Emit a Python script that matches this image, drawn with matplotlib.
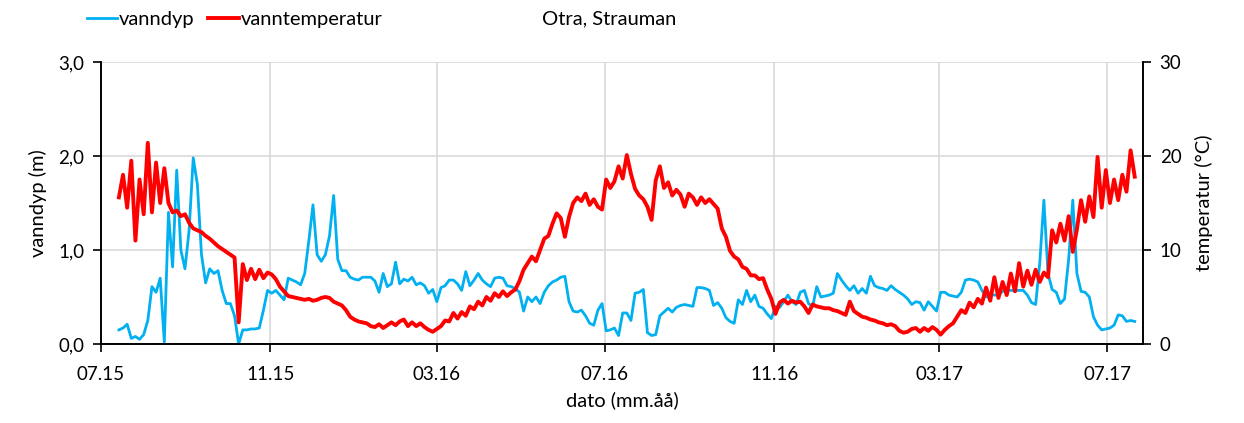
import numpy as np
import pandas as pd
import matplotlib
matplotlib.use("Agg")
import matplotlib.pyplot as plt
import matplotlib.dates as mdates

plt.rcParams['font.family'] = ['Lato', 'DejaVu Sans']

# --- data (3-day sampling from 2015-07-14) ---
start_date = "2015-07-14"
step = "3D"

vanndyp = [
    0.15, 0.17, 0.21, 0.06, 0.08, 0.05, 0.10, 0.25, 0.61, 0.55,
    0.70, 0.02, 1.40, 0.82, 1.85, 1.00, 0.80, 1.21, 1.98, 1.70,
    0.95, 0.65, 0.80, 0.75, 0.78, 0.57, 0.43, 0.43, 0.30, 0.00,
    0.15, 0.15, 0.16, 0.16, 0.17, 0.36, 0.57, 0.54, 0.57, 0.52,
    0.47, 0.70, 0.68, 0.66, 0.63, 0.75, 1.10, 1.48, 0.95, 0.88,
    0.95, 1.15, 1.58, 0.90, 0.78, 0.78, 0.71, 0.69, 0.68, 0.71,
    0.71, 0.71, 0.67, 0.55, 0.75, 0.61, 0.64, 0.87, 0.64, 0.69,
    0.67, 0.71, 0.63, 0.65, 0.62, 0.54, 0.58, 0.45, 0.60, 0.62,
    0.68, 0.68, 0.64, 0.57, 0.77, 0.62, 0.68, 0.75, 0.68, 0.64,
    0.61, 0.70, 0.71, 0.70, 0.62, 0.61, 0.59, 0.55, 0.35, 0.50,
    0.45, 0.50, 0.43, 0.55, 0.62, 0.66, 0.68, 0.71, 0.72, 0.45,
    0.35, 0.34, 0.36, 0.30, 0.22, 0.20, 0.36, 0.43, 0.14, 0.15,
    0.17, 0.09, 0.33, 0.33, 0.25, 0.54, 0.55, 0.58, 0.12, 0.09,
    0.10, 0.30, 0.34, 0.38, 0.34, 0.39, 0.41, 0.42, 0.41, 0.40,
    0.60, 0.60, 0.59, 0.57, 0.41, 0.44, 0.38, 0.28, 0.24, 0.22,
    0.47, 0.42, 0.57, 0.45, 0.52, 0.40, 0.38, 0.32, 0.27, 0.40,
    0.39, 0.45, 0.52, 0.45, 0.42, 0.55, 0.57, 0.43, 0.40, 0.61,
    0.50, 0.51, 0.52, 0.54, 0.75, 0.68, 0.62, 0.57, 0.62, 0.54,
    0.59, 0.54, 0.72, 0.62, 0.60, 0.59, 0.57, 0.62, 0.58, 0.55,
    0.52, 0.48, 0.42, 0.45, 0.44, 0.36, 0.45, 0.40, 0.35, 0.55,
    0.55, 0.52, 0.51, 0.50, 0.55, 0.68, 0.69, 0.68, 0.66, 0.57,
    0.50, 0.53, 0.52, 0.52, 0.56, 0.57, 0.57, 0.57, 0.57, 0.57,
    0.52, 0.44, 0.42, 0.86, 1.53, 0.75, 0.58, 0.55, 0.43, 0.48,
    0.90, 1.53, 0.75, 0.56, 0.55, 0.50, 0.29, 0.20, 0.15, 0.16,
    0.17, 0.20, 0.31, 0.30, 0.24, 0.25, 0.24,
]

vanntemperatur = [
    15.6, 18.0, 14.5, 19.5, 11.0, 17.5, 13.8, 21.4, 14.0, 19.3,
    15.0, 18.7, 15.0, 14.0, 14.2, 13.6, 13.8, 12.9, 12.3, 12.1,
    11.9, 11.5, 11.2, 10.8, 10.4, 10.1, 9.8, 9.5, 9.2, 2.3,
    8.5, 6.8, 8.0, 6.9, 7.9, 7.0, 7.6, 7.4, 6.9, 6.1,
    5.6, 5.1, 5.0, 4.9, 4.8, 4.7, 4.8, 4.6, 4.7, 4.9,
    5.0, 4.9, 4.5, 4.3, 4.1, 3.6, 2.9, 2.6, 2.4, 2.3,
    2.2, 1.9, 1.8, 2.1, 1.7, 2.0, 2.3, 2.0, 2.4, 2.6,
    1.9, 2.3, 1.9, 2.2, 1.8, 1.5, 1.3, 1.6, 1.9, 2.5,
    2.4, 3.3, 2.7, 3.4, 3.0, 4.0, 3.7, 4.5, 4.1, 5.0,
    4.6, 5.4, 5.0, 5.6, 5.1, 5.5, 5.8, 6.7, 7.9, 8.6,
    9.3, 8.8, 10.0, 11.2, 11.5, 12.8, 13.9, 13.4, 11.4, 13.5,
    15.0, 15.6, 15.2, 16.0, 14.8, 15.4, 14.6, 14.3, 17.5, 16.6,
    17.3, 18.9, 17.6, 20.1, 18.1, 16.5, 15.8, 15.4, 14.6, 13.2,
    17.4, 18.9, 16.6, 17.2, 15.8, 16.4, 15.9, 14.6, 16.0, 15.6,
    14.8, 15.6, 15.0, 15.4, 14.9, 14.4, 12.3, 11.4, 9.9, 9.3,
    9.0, 8.2, 8.0, 7.3, 7.3, 6.9, 7.0, 5.8, 4.8, 3.2,
    4.4, 4.7, 4.3, 4.6, 4.4, 4.5, 4.0, 3.3, 4.2, 4.0,
    3.9, 3.8, 3.8, 3.6, 3.5, 3.3, 3.1, 4.5, 3.5, 3.2,
    2.9, 2.8, 2.6, 2.5, 2.3, 2.2, 2.0, 2.1, 1.9, 1.4,
    1.2, 1.3, 1.6, 1.7, 1.3, 1.7, 1.4, 1.8, 1.5, 1.0,
    1.5, 1.9, 2.2, 2.9, 3.6, 3.3, 4.4, 3.9, 4.8, 4.3,
    6.0, 4.6, 7.1, 4.9, 6.6, 5.2, 7.5, 5.6, 8.6, 6.1,
    7.8, 6.3, 7.9, 6.6, 7.6, 7.1, 12.1, 10.8, 12.8, 11.0,
    13.6, 9.8, 12.2, 15.3, 13.0, 15.7, 13.5, 19.9, 14.5, 18.5,
    15.0, 17.5, 15.3, 18.0, 16.2, 20.6, 17.8,
]

tick_dates = ["2015-07-01", "2015-11-01", "2016-03-01", "2016-07-01",
              "2016-11-01", "2017-03-01", "2017-07-01"]
tick_labels = ["07.15", "11.15", "03.16", "07.16", "11.16", "03.17", "07.17"]

dates_depth = pd.date_range(start_date, periods=len(vanndyp), freq=step)
dates_temp = pd.date_range(start_date, periods=len(vanntemperatur), freq=step)

# --- figure ---
fig = plt.figure(figsize=(12.44, 4.23), dpi=100)
ax = fig.add_axes([0.0812, 0.1868, 0.8376, 0.6666])
ax2 = ax.twinx()

blue = "#00B0F0"
red = "#FF0000"

l1, = ax.plot(dates_depth, vanndyp, color=blue, lw=2.0, label="vanndyp")
l2, = ax2.plot(dates_temp, vanntemperatur, color=red, lw=2.8, label="vanntemperatur")

ax.set_xlim(pd.Timestamp("2015-07-01"), pd.Timestamp("2017-07-27"))
ax.set_ylim(0, 3)
ax2.set_ylim(0, 30)
ax.set_yticks([0, 1, 2, 3])
ax.set_yticklabels(["0,0", "1,0", "2,0", "3,0"])
ax2.set_yticks([0, 10, 20, 30])

ax.set_xticks(pd.to_datetime(tick_dates))
ax.set_xticklabels(tick_labels)

ax.grid(True, color="#D9D9D9", lw=1.2)
ax.set_axisbelow(True)

for a in (ax, ax2):
    a.spines['top'].set_visible(False)
    for s in ('left', 'right', 'bottom'):
        a.spines[s].set_linewidth(1.2)
        a.spines[s].set_color("black")
ax.tick_params(axis='both', labelsize=13.5, length=6, width=1.2, direction='out', pad=6)
ax2.tick_params(axis='y', labelsize=13.5, length=6, width=1.2, direction='out', pad=6)
ax.tick_params(axis='x', pad=10)

ax.set_xlabel("dato (mm.åå)", fontsize=14.5, labelpad=6)
ax.set_ylabel("vanndyp (m)", fontsize=14.5, labelpad=8)
ax2.set_ylabel("temperatur (°C)", fontsize=14.5, labelpad=10)

fig.text(0.49, 0.955, "Otra, Strauman", ha="center", va="center", fontsize=14.5)
fig.legend(handles=[l1, l2], loc="center left", bbox_to_anchor=(0.055, 0.955),
           ncol=2, frameon=False, fontsize=14.5, handlelength=1.5,
           handletextpad=0.1, columnspacing=0.7)

fig.savefig("out.png", dpi=100)
